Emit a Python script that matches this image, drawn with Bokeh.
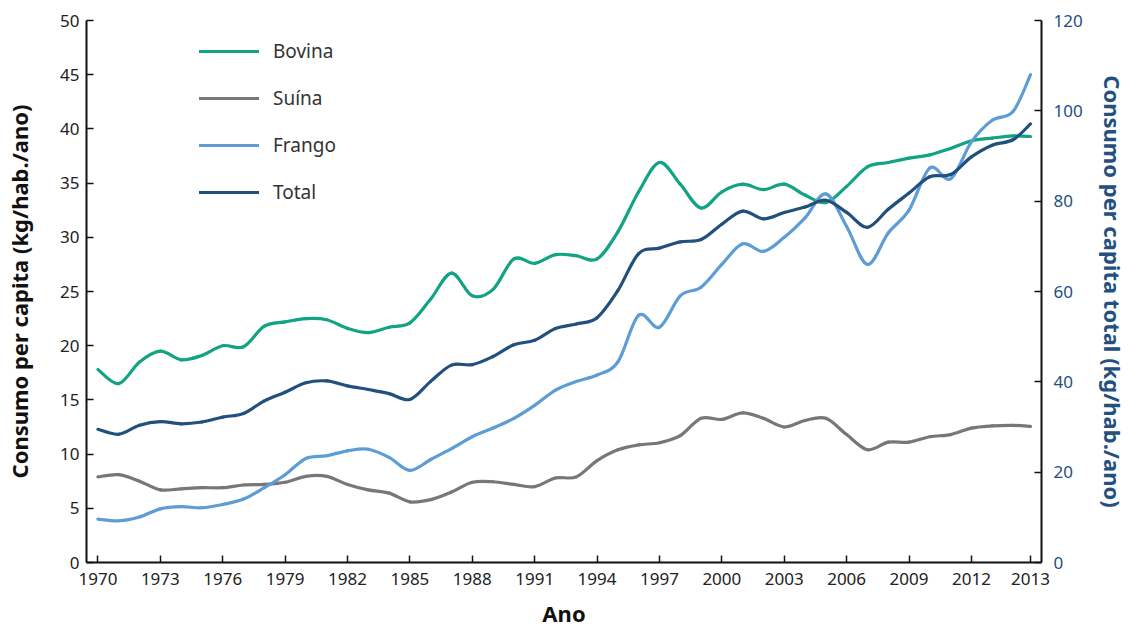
from bokeh.plotting import figure
from bokeh.models import Range1d, LinearAxis, FixedTicker, Legend, LegendItem
from bokeh.embed import file_html
from bokeh.resources import INLINE

# x positions (years on the tick scale); the last point sits at the axis end labelled "2013"
years = list(range(1970, 2015)) + [2014.84]

bovina = [17.8, 16.5, 18.5, 19.5, 18.7, 19.1, 20.0, 19.9, 21.8, 22.2,
          22.5, 22.4, 21.6, 21.2, 21.7, 22.1, 24.3, 26.7, 24.6, 25.2,
          28.0, 27.6, 28.4, 28.3, 28.0, 30.5, 34.2, 36.9, 34.9, 32.7,
          34.2, 34.9, 34.4, 34.9, 33.9, 33.2, 34.7, 36.5, 36.9, 37.3,
          37.6, 38.2, 38.9, 39.15, 39.35, 39.3]
suina = [7.9, 8.1, 7.5, 6.7, 6.8, 6.9, 6.9, 7.15, 7.2, 7.4,
         7.95, 7.95, 7.2, 6.7, 6.4, 5.6, 5.8, 6.5, 7.4, 7.45,
         7.2, 7.0, 7.8, 7.9, 9.4, 10.4, 10.85, 11.05, 11.7, 13.3,
         13.2, 13.8, 13.3, 12.5, 13.1, 13.3, 11.8, 10.4, 11.1, 11.1,
         11.6, 11.8, 12.4, 12.6, 12.65, 12.55]
frango = [4.0, 3.85, 4.2, 4.95, 5.15, 5.05, 5.35, 5.85, 6.9, 8.1,
          9.6, 9.85, 10.3, 10.45, 9.7, 8.5, 9.5, 10.5, 11.6, 12.4,
          13.3, 14.5, 15.9, 16.7, 17.3, 18.5, 22.8, 21.7, 24.6, 25.4,
          27.5, 29.4, 28.7, 30.0, 31.8, 34.0, 31.0, 27.5, 30.4, 32.5,
          36.4, 35.4, 38.8, 40.8, 41.6, 45.0]
total = [29.5, 28.4, 30.4, 31.2, 30.7, 31.1, 32.2, 33.0, 35.8, 37.7,
         39.8, 40.2, 39.1, 38.3, 37.4, 36.1, 40.1, 43.7, 43.8, 45.6,
         48.2, 49.2, 51.8, 52.8, 54.2, 60.2, 68.4, 69.6, 71.0, 71.5,
         74.9, 77.8, 76.1, 77.5, 78.7, 80.2, 77.5, 74.2, 78.2, 81.8,
         85.4, 85.9, 89.8, 92.4, 93.6, 97.1]

series_names = ["Bovina", "Suína", "Frango", "Total"]
series_colors = ["#12a385", "#7a7676", "#5e9cd6", "#22507d"]

x_tick_labels = ["1970", "1973", "1976", "1979", "1982", "1985", "1988", "1991",
                 "1994", "1997", "2000", "2003", "2006", "2009", "2012", "2013"]
left_ticks = [0, 5, 10, 15, 20, 25, 30, 35, 40, 45, 50]
right_ticks = [0, 20, 40, 60, 80, 100, 120]

x_tick_pos = [int(t) for t in x_tick_labels[:-1]] + [years[-1]]
overrides = {}
for pos, lab in zip(x_tick_pos, x_tick_labels):
    overrides[pos] = lab

FONT = "Noto Sans"
INK = "#222222"
NAVY = "#24507f"
X0, X1 = 1969.45, 2015.37

p = figure(width=1130, height=630, output_backend="svg", toolbar_location=None,
           x_range=Range1d(X0, X1), y_range=Range1d(0, 50))
p.extra_y_ranges = {"total": Range1d(0, 120)}
p.min_border_left = 86
p.min_border_right = 82
p.min_border_top = 20
p.min_border_bottom = 66
p.outline_line_color = None
p.xgrid.visible = False
p.ygrid.visible = False
p.background_fill_color = "white"
p.border_fill_color = "white"


def smooth_segments(xs, ys):
    """Catmull-Rom control points so the curve passes through every data point."""
    n = len(xs)
    px = [xs[0]] + list(xs) + [xs[-1]]
    py = [ys[0]] + list(ys) + [ys[-1]]
    seg = dict(x0=[], y0=[], x1=[], y1=[], cx0=[], cy0=[], cx1=[], cy1=[])
    for i in range(1, n):
        a, b, c, d = i - 1, i, i + 1, i + 2
        seg["x0"].append(px[b]); seg["y0"].append(py[b])
        seg["x1"].append(px[c]); seg["y1"].append(py[c])
        seg["cx0"].append(px[b] + (px[c] - px[a]) / 6.0)
        seg["cy0"].append(py[b] + (py[c] - py[a]) / 6.0)
        seg["cx1"].append(px[c] - (px[d] - px[b]) / 6.0)
        seg["cy1"].append(py[c] - (py[d] - py[b]) / 6.0)
    return seg


renderers = []
for name, col, vals, rng in zip(series_names, series_colors,
                                [bovina, suina, frango, total],
                                ["default", "default", "default", "total"]):
    s = smooth_segments(years, vals)
    r = p.bezier(x0=s["x0"], y0=s["y0"], x1=s["x1"], y1=s["y1"],
                 cx0=s["cx0"], cy0=s["cy0"], cx1=s["cx1"], cy1=s["cy1"],
                 line_color=col, line_width=3.2, line_cap="round", y_range_name=rng)
    renderers.append(r)


def style_axis(ax, color):
    ax.axis_line_color = "#111111"
    ax.axis_line_width = 2
    ax.major_tick_in = 7
    ax.major_tick_out = 0
    ax.major_tick_line_color = "#111111"
    ax.major_tick_line_width = 1.5
    ax.minor_tick_line_color = None
    ax.major_label_text_font = FONT
    ax.major_label_text_font_size = "17px"
    ax.major_label_text_color = color
    ax.axis_label_text_font = FONT
    ax.axis_label_text_font_style = "bold"
    ax.axis_label_text_font_size = "22px"


xa = p.xaxis[0]
xa.ticker = FixedTicker(ticks=x_tick_pos)
xa.major_label_overrides = overrides
xa.axis_label = "Ano"
style_axis(xa, INK)
xa.axis_label_text_color = "#111111"
xa.major_label_standoff = 10
xa.axis_label_standoff = 10

ya = p.yaxis[0]
ya.ticker = FixedTicker(ticks=left_ticks)
ya.axis_label = "Consumo per capita (kg/hab./ano)"
style_axis(ya, INK)
ya.axis_label_text_color = "#111111"
ya.major_label_standoff = 7
ya.axis_label_standoff = 23

ra = LinearAxis(y_range_name="total", ticker=FixedTicker(ticks=right_ticks),
                axis_label="Consumo per capita total (kg/hab./ano)")
style_axis(ra, NAVY)
ra.axis_label_text_color = NAVY
ra.major_label_standoff = 12
ra.axis_label_standoff = 12
p.add_layout(ra, "right")

legend = Legend(items=[LegendItem(label=n, renderers=[r]) for n, r in zip(series_names, renderers)],
                location=(113, 357), orientation="vertical")
legend.glyph_width = 60
legend.glyph_height = 20
legend.label_height = 20
legend.spacing = 21
legend.padding = 0
legend.margin = 0
legend.label_standoff = 14
legend.border_line_alpha = 0
legend.background_fill_alpha = 0
legend.label_text_font = FONT
legend.label_text_font_size = "19px"
legend.label_text_color = "#333333"
p.add_layout(legend, "center")

open("out.html", "w").write(file_html(p, INLINE))
